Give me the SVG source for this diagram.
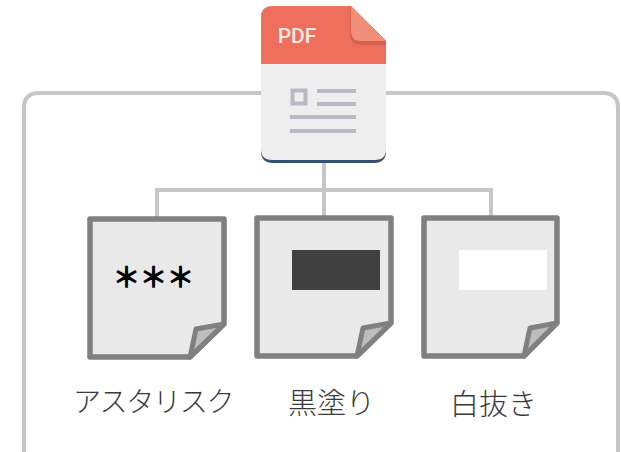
<svg xmlns="http://www.w3.org/2000/svg" width="621" height="452" viewBox="0 0 621 452">
<style>
.frame{fill:none;stroke:#c6c6c6;stroke-width:4}
.conn{fill:none;stroke:#c6c6c6;stroke-width:4}
.page{fill:#e9e9e9;stroke:#808080;stroke-width:5.500;stroke-linejoin:round}
.curl{fill:#bdbdbd;stroke:#808080;stroke-width:5;stroke-linejoin:round}
.lbl{font-family:"Noto Sans CJK JP","Noto Sans",sans-serif;font-size:29px;font-weight:300;fill:#3a3a3a;text-anchor:middle}
.ln{stroke:#b9b8c4;stroke-width:4;fill:none}
</style>
<rect width="621" height="452" fill="#fff"/>
<path class="frame" d="M24 452V108Q24 93 39 93H603Q618 93 618 108V452"/>
<g id="connectors">
<path class="conn" d="M324 160V218M157 218V190H491V218"/>
</g>
<g id="pdf">
<path d="M261 18Q261 6 273 6H351L386 41V151Q386 163 374 163H273Q261 163 261 151Z" fill="#34506f"/>
<path d="M261 18Q261 6 273 6H351L386 41V149Q386 160 375 160H272Q261 160 261 149Z" fill="#eeeeef"/>
<path d="M261 64V18Q261 6 273 6H351L386 41V64Z" fill="#ee6f5b"/>
<path d="M350 6V34Q350 45 361 45H386V41Z" fill="#d9604f"/>
<path d="M351 6V31Q351 41 361 41H386Z" fill="#f28f7b"/>
<text x="297" y="43" font-family="Roboto,'Noto Sans',sans-serif" font-size="21" font-weight="500" fill="#fbe9e5" text-anchor="middle">PDF</text>
<rect x="292.500" y="90.500" width="13" height="13" fill="none" stroke="#b9b8c4" stroke-width="4"/>
<path class="ln" d="M317 91H356M317 104H356M290 117H356M290 131H356"/>
</g>
<g id="doc-asterisk">
<path class="page" d="M90 219H224V324L190 357H90Z"/>
<path class="curl" d="M190 357L196 329L224 324Z"/>
<text x="153.500" y="287" font-family="'Noto Sans CJK JP',sans-serif" font-size="27" fill="#000" stroke="#000" stroke-width="1.300" text-anchor="middle">＊＊＊</text>
<text class="lbl" x="153" y="412" font-size="28" style="font-size:28px" letter-spacing="-1.300">アスタリスク</text>
</g>
<g id="doc-black">
<path class="page" d="M257 218H391V323L357 356H257Z"/>
<path class="curl" d="M357 356L363 328L391 323Z"/>
<rect x="292" y="250" width="88" height="40" fill="#404040"/>
<text class="lbl" x="331.500" y="414">黒塗り</text>
</g>
<g id="doc-white">
<path class="page" d="M424 218H557V323L524 356H424Z"/>
<path class="curl" d="M524 356L530 328L557 323Z"/>
<rect x="459" y="250" width="88" height="40" fill="#fff"/>
<text class="lbl" x="493.500" y="415">白抜き</text>
</g>
</svg>
